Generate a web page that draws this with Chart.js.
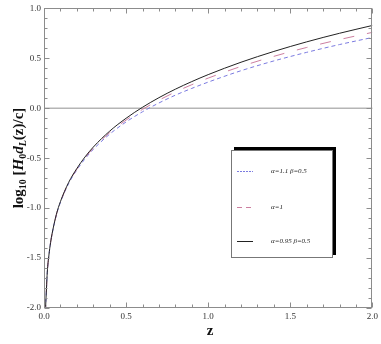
<!DOCTYPE html>
<html><head><meta charset="utf-8">
<script src="https://cdn.jsdelivr.net/npm/chart.js@4.4.1/dist/chart.umd.min.js"></script>
<style>html,body{margin:0;padding:0;background:#fff}#wrap{width:381px;height:344px}</style>
</head><body><div id="wrap"><canvas id="c" width="381" height="344"></canvas></div>
<script>
// ---- data ----
const zValues = [0.008,0.01,0.015,0.02,0.03,0.04,0.05,0.075,0.1,0.15,0.2,0.25,0.3,0.4,0.5,0.6,0.7,0.8,0.9,1.0,1.2,1.4,1.6,1.8,2.0];
const seriesAlpha11 = [-2.084,-1.986,-1.808,-1.642,-1.472,-1.348,-1.254,-1.071,-0.943,-0.754,-0.618,-0.506,-0.412,-0.259,-0.137,-0.035,0.053,0.131,0.199,0.262,0.376,0.474,0.560,0.638,0.709];
const seriesAlpha1 = [-2.083,-1.985,-1.808,-1.641,-1.471,-1.346,-1.252,-1.068,-0.939,-0.748,-0.610,-0.496,-0.400,-0.243,-0.118,-0.011,0.081,0.163,0.236,0.302,0.419,0.520,0.609,0.688,0.760];
const seriesAlpha095 = [-2.083,-1.985,-1.807,-1.640,-1.470,-1.345,-1.250,-1.065,-0.935,-0.743,-0.603,-0.487,-0.389,-0.229,-0.100,0.010,0.106,0.191,0.267,0.337,0.461,0.569,0.665,0.751,0.829];
const seriesLabels = ['α=1.1 β=0.5','α=1','α=0.95 β=0.5'];
const xTickValues = [0,0.5,1.0,1.5,2.0];
const yTickValues = [-2.0,-1.5,-1.0,-0.5,0.0,0.5,1.0];

const SERIF = '"Liberation Serif","DejaVu Serif",serif';
const pts = arr => zValues.map((z,i)=>({x:z,y:arr[i]}));

const styles = [
  {color:'#7b7be0', dash:[4,3], legendDash:[2,1], width:1},
  {color:'#cc7fa0', dash:[11,13], legendDash:[5,4], width:1},
  {color:'#222222', dash:[], legendDash:[], width:1}
];
const seriesData = [seriesAlpha11, seriesAlpha1, seriesAlpha095];

const framePlugin = {
  id:'frame',
  beforeDatasetsDraw(chart){
    const {ctx, chartArea:a, scales:{y}} = chart;
    const y0 = y.getPixelForValue(0);
    ctx.save();
    ctx.strokeStyle='#b5b5b5'; ctx.lineWidth=1.5;
    ctx.beginPath(); ctx.moveTo(a.left,y0); ctx.lineTo(a.right,y0); ctx.stroke();
    ctx.restore();
  },
  afterDatasetsDraw(chart){
    const {ctx, chartArea:a, scales:{x,y}} = chart;
    ctx.save();
    ctx.strokeStyle='#8c8c8c'; ctx.lineWidth=1;
    const L=Math.round(a.left)+0.5, R=Math.round(a.right)-0.5, T=Math.round(a.top)+0.5, B=Math.round(a.bottom)-0.5;
    ctx.strokeRect(L,T,R-L,B-T);
    ctx.beginPath();
    for(let i=0;i<=20;i++){
      const px=Math.round(x.getPixelForValue(x.min+i*0.1))+0.5;
      const len = i%5===0?5:3;
      ctx.moveTo(px,B); ctx.lineTo(px,B-len);
      ctx.moveTo(px,T); ctx.lineTo(px,T+len);
    }
    for(let i=0;i<=30;i++){
      const py=Math.round(y.getPixelForValue(y.min+i*0.1))+0.5;
      const len = i%5===0?5:3;
      ctx.moveTo(L,py); ctx.lineTo(L+len,py);
      ctx.moveTo(R,py); ctx.lineTo(R-len,py);
    }
    ctx.stroke();
    ctx.restore();
  },
  afterDraw(chart){
    const {ctx} = chart;
    ctx.save();
    // legend box with shadow
    const bx=231, by=150, bw=102, bh=108;
    ctx.fillStyle='#000';
    ctx.fillRect(bx+3,by-3,bw,bh);
    ctx.fillStyle='#fff';
    ctx.fillRect(bx,by,bw,bh);
    ctx.strokeStyle='#777'; ctx.lineWidth=1;
    ctx.strokeRect(bx+0.5,by+0.5,bw-1,bh-1);
    const rows=[171,207,241];
    ctx.font='italic 7px '+SERIF;
    ctx.textBaseline='middle'; ctx.textAlign='left';
    chart.data.datasets.forEach((ds,i)=>{
      const st=styles[i];
      ctx.strokeStyle=st.color; ctx.lineWidth=1;
      ctx.setLineDash(st.legendDash);
      ctx.beginPath(); ctx.moveTo(237,rows[i]+0.5); ctx.lineTo(253,rows[i]+0.5); ctx.stroke();
      ctx.setLineDash([]);
      ctx.fillStyle='#222';
      ctx.fillText(ds.label,271,rows[i]);
    });
    // x title
    ctx.font='bold 15px '+SERIF;
    ctx.fillStyle='#111'; ctx.textAlign='center'; ctx.textBaseline='middle';
    ctx.fillText('z',210,331);
    // y title with subscripts
    const pieces=[
      {t:'log',f:'bold 15px '+SERIF,dy:0},
      {t:'10',f:'bold 10px '+SERIF,dy:4},
      {t:' [',f:'bold 15px '+SERIF,dy:0},
      {t:'H',f:'bold italic 15px '+SERIF,dy:0},
      {t:'0',f:'bold 10px '+SERIF,dy:4},
      {t:'d',f:'bold italic 15px '+SERIF,dy:0},
      {t:'L',f:'bold italic 10px '+SERIF,dy:4},
      {t:'(z)/c]',f:'bold 15px '+SERIF,dy:0}
    ];
    let total=0;
    pieces.forEach(p=>{ctx.font=p.f; p.w=ctx.measureText(p.t).width; total+=p.w;});
    ctx.translate(19,158); ctx.rotate(-Math.PI/2);
    ctx.textAlign='left'; ctx.textBaseline='middle';
    let cx=-total/2;
    pieces.forEach(p=>{ctx.font=p.f; ctx.fillText(p.t,cx,p.dy); cx+=p.w;});
    ctx.restore();
  }
};

new Chart(document.getElementById('c'),{
  type:'line',
  data:{datasets:seriesData.map((arr,i)=>({
    label:seriesLabels[i],
    data:pts(arr),
    borderColor:styles[i].color,
    borderDash:styles[i].dash,
    borderWidth:styles[i].width,
    pointRadius:0,
    fill:false,
    cubicInterpolationMode:'monotone',
    order:3-i
  }))},
  options:{
    responsive:false, animation:false, devicePixelRatio:1,
    layout:{padding:{top:7,right:4,left:0,bottom:0}},
    plugins:{legend:{display:false},tooltip:{enabled:false}},
    scales:{
      x:{type:'linear',min:0,max:2,
        afterBuildTicks:s=>{s.ticks=xTickValues.map(v=>({value:v}));},
        afterFit:s=>{s.height=36;},
        grid:{display:false,drawTicks:false},border:{display:false},
        ticks:{padding:3,font:{family:SERIF,size:9},color:'#333',maxRotation:0,callback:v=>Number(v).toFixed(1)}},
      y:{type:'linear',min:-2,max:1,
        afterBuildTicks:s=>{s.ticks=yTickValues.map(v=>({value:v}));},
        afterFit:s=>{s.width=44;},
        grid:{display:false,drawTicks:false},border:{display:false},
        ticks:{padding:3,font:{family:SERIF,size:9},color:'#333',callback:v=>Number(v).toFixed(1)}}
    }
  },
  plugins:[framePlugin]
});
</script></body></html>
